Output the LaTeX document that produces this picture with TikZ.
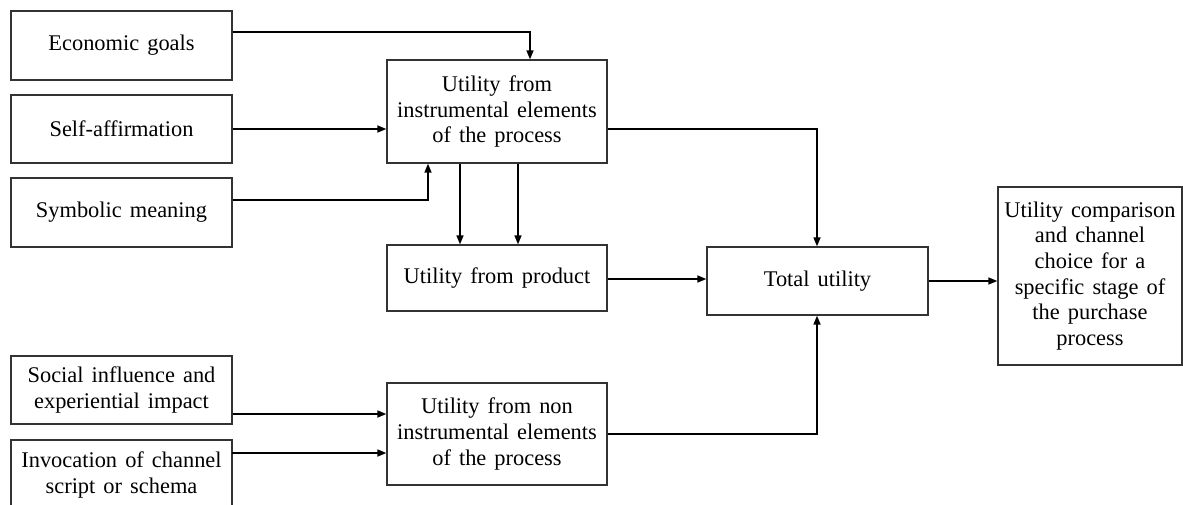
\documentclass[tikz,border=0pt]{standalone}
\usepackage{fontspec}
\setmainfont{Liberation Serif}
\usetikzlibrary{arrows.meta}

\newcommand{\boxfont}{\fontsize{22.4}{25.7}\selectfont\spaceskip=0.36em plus 0.1em minus 0.05em\relax}

\begin{document}
\begin{tikzpicture}[x=1pt, y=-1pt,
  box/.style={draw=black!80, line width=1.3pt, rectangle, inner sep=0pt,
    align=center, font=\boxfont},
  flow/.style={draw=black, line width=1.6pt,
    -{Triangle[length=9pt,width=7pt]}}]

\useasboundingbox (0,0) rectangle (1183,504);
\clip (0,0) rectangle (1183,504);

% input factors, upper group
\node[box, minimum width=221pt, minimum height=69pt] (eco)  at (121.5,45.5)  {Economic goals};
\node[box, minimum width=221pt, minimum height=68pt] (self) at (121.5,129)   {Self-affirmation};
\node[box, minimum width=221pt, minimum height=69pt] (sym)  at (121.5,212.5) {Symbolic meaning};

% input factors, lower group
\node[box, minimum width=221pt, minimum height=68pt] (soc) at (121.5,390) {Social influence and\\experiential impact};
\node[box, minimum width=221pt, minimum height=70pt] (inv) at (121.5,475) {Invocation of channel\\script or schema};

% utility components
\node[box, minimum width=220pt, minimum height=103pt] (inst) at (497,111.5) {Utility from\\instrumental elements\\of the process};
\node[box, minimum width=220pt, minimum height=66pt]  (prod) at (497,278)   {Utility from product};
\node[box, minimum width=220pt, minimum height=102pt] (non)  at (497,434)   {Utility from non\\instrumental elements\\of the process};

% aggregation and choice
\node[box, minimum width=221pt, minimum height=68pt]  (tot)    at (817.5,281) {Total utility};
\node[box, minimum width=184pt, minimum height=178pt] (choice) at (1090,276)  {Utility comparison\\and channel\\choice for a\\specific stage of\\the purchase\\process};

% connectors into the instrumental utility box
\coordinate (ecoTurn) at (530,32);
\draw[flow] ([yshift=13.5pt]eco.east) -- (ecoTurn) -- (ecoTurn |- inst.north);
\draw[flow] (self.east) -- (self.east -| inst.west);
\coordinate (symTurn) at (428,200);
\draw[flow] ([yshift=12.5pt]sym.east) -- (symTurn) -- (symTurn |- inst.south);

% instrumental utility feeds product utility
\draw[flow] ([xshift=-37pt]inst.south) -- ([xshift=-37pt]inst.south |- prod.north);
\draw[flow] ([xshift=21pt]inst.south) -- ([xshift=21pt]inst.south |- prod.north);

% connectors into total utility
\coordinate (instTurn) at (817,129);
\draw[flow] ([yshift=-17.5pt]inst.east) -- (instTurn) -- (instTurn |- tot.north);
\draw[flow] ([yshift=-1pt]prod.east) -- ([yshift=-1pt]prod.east -| tot.west);
\coordinate (nonTurn) at (817,434);
\draw[flow] (non.east) -- (nonTurn) -- (nonTurn |- tot.south);

% lower inputs into non-instrumental utility
\draw[flow] ([yshift=-24pt]soc.east) -- ([yshift=-24pt]soc.east -| non.west);
\coordinate (invOut) at (232,453);
\draw[flow] (invOut) -- (invOut -| non.west);

% total utility to channel choice
\draw[flow] (tot.east) -- (tot.east -| choice.west);
\end{tikzpicture}
\end{document}
